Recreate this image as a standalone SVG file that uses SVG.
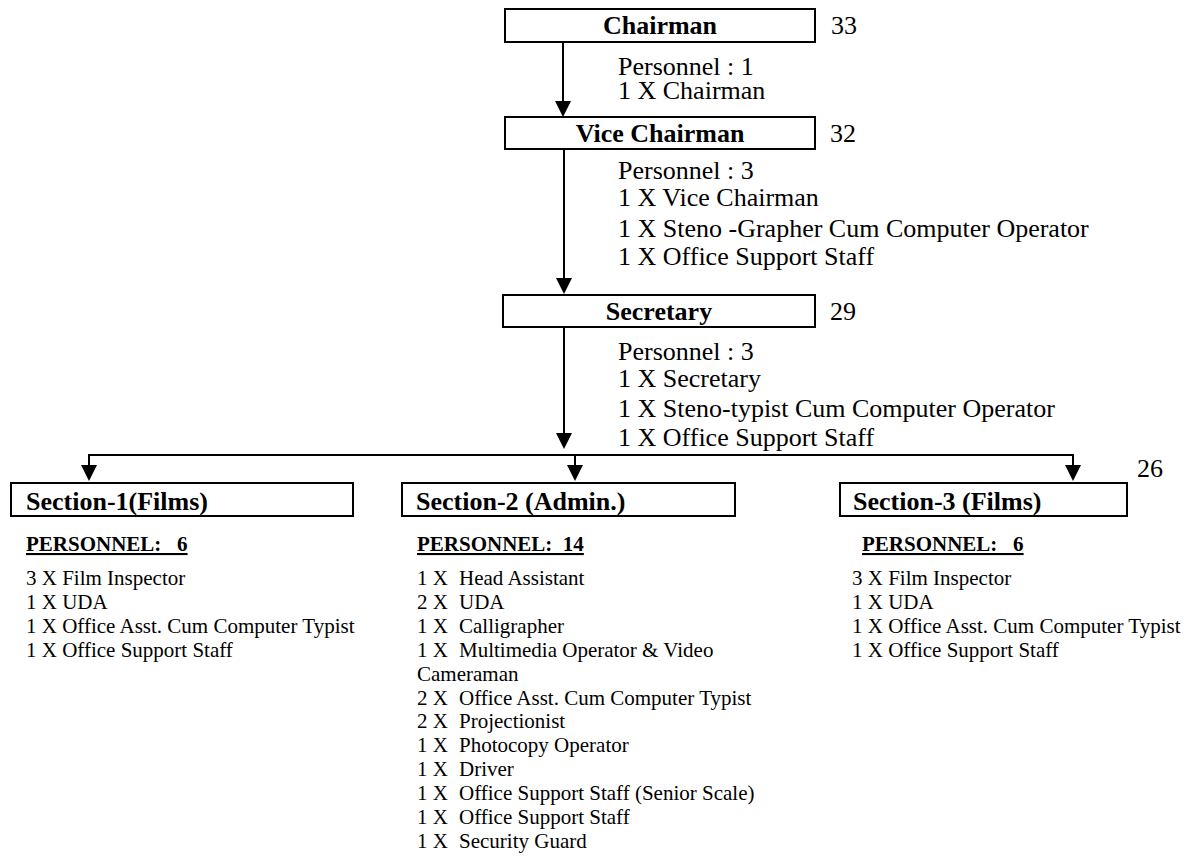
<svg xmlns="http://www.w3.org/2000/svg" width="1197" height="861" viewBox="0 0 1197 861">
<style>
.box{fill:#fff;stroke:#000;stroke-width:2}
.ttl{font-family:"Liberation Serif","Times New Roman",serif;font-weight:bold;font-size:26px;fill:#000}
.txt{font-family:"Liberation Serif","Times New Roman",serif;font-size:26px;fill:#000}
.sm{font-family:"Liberation Serif","Times New Roman",serif;font-size:21px;fill:#000}
.hd{font-family:"Liberation Serif","Times New Roman",serif;font-size:21px;font-weight:bold;text-decoration:underline;fill:#000;white-space:pre}
.ln{fill:none;stroke:#000;stroke-width:2}
</style>
<defs>
<marker id="ah" viewBox="0 0 16 16" refX="8" refY="8" markerWidth="16" markerHeight="16" markerUnits="userSpaceOnUse" orient="auto">
<path d="M0,0 L16,8 L0,16 Z" fill="#000"/>
</marker>
</defs>
<g id="connectors">
<line class="ln" x1="563" y1="43" x2="563" y2="109" marker-end="url(#ah)"/>
<line class="ln" x1="564" y1="149" x2="564" y2="286" marker-end="url(#ah)"/>
<line class="ln" x1="564" y1="325" x2="564" y2="441" marker-end="url(#ah)"/>
<line class="ln" x1="88" y1="455" x2="1074" y2="455"/>
<line class="ln" x1="89" y1="455" x2="89" y2="473" marker-end="url(#ah)"/>
<line class="ln" x1="575" y1="455" x2="575" y2="473" marker-end="url(#ah)"/>
<line class="ln" x1="1073" y1="455" x2="1073" y2="473" marker-end="url(#ah)"/>
</g>
<g id="chairman">
<rect class="box" x="505" y="9" width="310" height="33"/>
<text class="ttl" x="660" y="34" text-anchor="middle">Chairman</text>
<text class="txt" x="831" y="34">33</text>
<text class="txt" x="618" y="75">Personnel : 1</text>
<text class="txt" x="618" y="99">1 X Chairman</text>
</g>
<g id="vice-chairman">
<rect class="box" x="505" y="117" width="310" height="32"/>
<text class="ttl" x="660" y="142" text-anchor="middle">Vice Chairman</text>
<text class="txt" x="830" y="142">32</text>
<text class="txt" x="618" y="179">Personnel : 3</text>
<text class="txt" x="618" y="206">1 X Vice Chairman</text>
<text class="txt" x="618" y="237">1 X Steno -Grapher Cum Computer Operator</text>
<text class="txt" x="618" y="265">1 X Office Support Staff</text>
</g>
<g id="secretary">
<rect class="box" x="503" y="295" width="312" height="32"/>
<text class="ttl" x="659" y="320" text-anchor="middle">Secretary</text>
<text class="txt" x="830" y="320">29</text>
<text class="txt" x="618" y="360">Personnel : 3</text>
<text class="txt" x="618" y="387">1 X Secretary</text>
<text class="txt" x="618" y="417">1 X Steno-typist Cum Computer Operator</text>
<text class="txt" x="618" y="446">1 X Office Support Staff</text>
</g>
<g id="section-1">
<rect class="box" x="11" y="483" width="342" height="33"/>
<text class="ttl" x="26" y="510">Section-1(Films)</text>
<text class="hd" x="26" y="551">PERSONNEL:   6</text>
<text class="sm" x="26" y="585">3 X Film Inspector</text>
<text class="sm" x="26" y="609">1 X UDA</text>
<text class="sm" x="26" y="633">1 X Office Asst. Cum Computer Typist</text>
<text class="sm" x="26" y="657">1 X Office Support Staff</text>
</g>
<g id="section-2">
<rect class="box" x="402" y="483" width="333" height="33"/>
<text class="ttl" x="416" y="510">Section-2 (Admin.)</text>
<text class="hd" x="417" y="551">PERSONNEL:  14</text>
<text class="sm" y="585"><tspan x="417">1 X</tspan><tspan x="459">Head Assistant</tspan></text>
<text class="sm" y="608.9"><tspan x="417">2 X</tspan><tspan x="459">UDA</tspan></text>
<text class="sm" y="632.8"><tspan x="417">1 X</tspan><tspan x="459">Calligrapher</tspan></text>
<text class="sm" y="656.7"><tspan x="417">1 X</tspan><tspan x="459">Multimedia Operator &amp; Video</tspan></text>
<text class="sm" x="417" y="680.6">Cameraman</text>
<text class="sm" y="704.5"><tspan x="417">2 X</tspan><tspan x="459">Office Asst. Cum Computer Typist</tspan></text>
<text class="sm" y="728.4"><tspan x="417">2 X</tspan><tspan x="459">Projectionist</tspan></text>
<text class="sm" y="752.3"><tspan x="417">1 X</tspan><tspan x="459">Photocopy Operator</tspan></text>
<text class="sm" y="776.2"><tspan x="417">1 X</tspan><tspan x="459">Driver</tspan></text>
<text class="sm" y="800.1"><tspan x="417">1 X</tspan><tspan x="459">Office Support Staff (Senior Scale)</tspan></text>
<text class="sm" y="824"><tspan x="417">1 X</tspan><tspan x="459">Office Support Staff</tspan></text>
<text class="sm" y="847.9"><tspan x="417">1 X</tspan><tspan x="459">Security Guard</tspan></text>
</g>
<g id="section-3">
<rect class="box" x="840" y="483" width="287" height="33"/>
<text class="ttl" x="853" y="510">Section-3 (Films)</text>
<text class="txt" x="1137" y="477">26</text>
<text class="hd" x="862" y="551">PERSONNEL:   6</text>
<text class="sm" x="852" y="585">3 X Film Inspector</text>
<text class="sm" x="852" y="609">1 X UDA</text>
<text class="sm" x="852" y="633">1 X Office Asst. Cum Computer Typist</text>
<text class="sm" x="852" y="657">1 X Office Support Staff</text>
</g>
</svg>
